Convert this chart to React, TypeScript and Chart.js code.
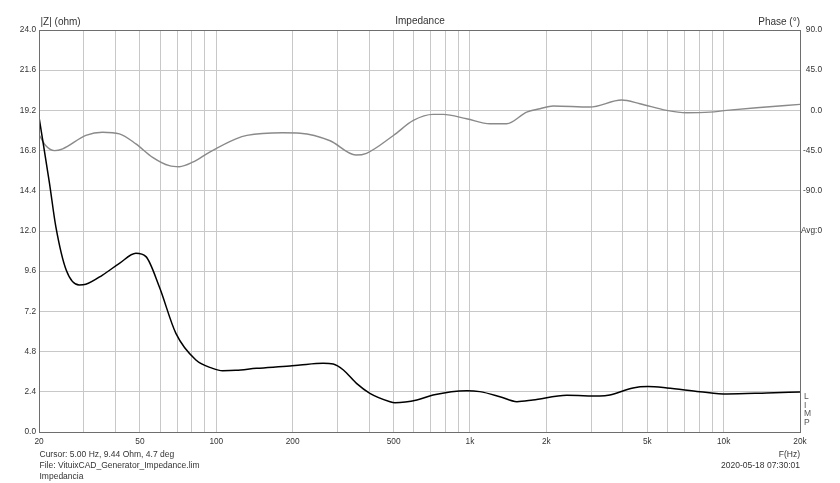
import React, { useEffect, useRef } from 'react';
import { Chart, registerables } from 'chart.js';

Chart.register(...registerables);

const FONT = '"Liberation Sans", Arial, sans-serif';

// Impedance magnitude (ohm) vs frequency (Hz)
const impFreq = [20, 22, 23.3, 25.6, 28.8, 30.6, 35.6, 41.5, 48.2, 52.8, 59.6, 69.3, 83.1, 96.7, 106, 119.5, 144, 195, 214, 264, 289, 317, 357, 403, 484, 506, 618, 715, 973, 1094, 1312, 1531, 1770, 2410, 3250, 3560, 4390, 5030, 5980, 8060, 10300, 14800, 20000];
const impOhm = [18.8, 14.85, 12.26, 9.67, 8.78, 8.82, 9.37, 10.07, 10.67, 10.47, 8.67, 5.89, 4.3, 3.8, 3.66, 3.68, 3.8, 3.94, 4.0, 4.1, 4.06, 3.7, 2.9, 2.31, 1.81, 1.75, 1.91, 2.21, 2.47, 2.41, 2.11, 1.81, 1.91, 2.19, 2.15, 2.21, 2.63, 2.71, 2.63, 2.41, 2.27, 2.33, 2.39];

// Phase (degrees) vs frequency (Hz)
const phFreq = [20, 21.2, 23, 24.8, 30.6, 35.6, 41.5, 48.2, 56.1, 65.3, 71.5, 80.7, 93.8, 119.5, 132, 183, 214, 281, 355, 391, 499, 598, 716, 784, 970, 1199, 1395, 1673, 1888, 2128, 2970, 3960, 4676, 5960, 7140, 8830, 10270, 13490, 20000];
const phDeg = [-27, -39, -45, -43, -28, -24.4, -26.2, -37.5, -52.5, -61.9, -63, -58, -46.9, -31.9, -28, -25.1, -25.5, -34, -50, -48, -28.1, -11.25, -4.5, -4.5, -9.4, -15, -15, -1.9, 1.9, 4.9, 3.75, 11.6, 7.5, 0, -2.6, -1.9, 0, 3, 6.75];

// Axis ticks
const xGrid = [20, 30, 40, 50, 60, 70, 80, 90, 100, 200, 300, 400, 500, 600, 700, 800, 900, 1000, 2000, 3000, 4000, 5000, 6000, 7000, 8000, 9000, 10000, 20000];
const xLabelled = [20, 50, 100, 200, 500, 1000, 2000, 5000, 10000, 20000];
const yTicks = [0, 2.4, 4.8, 7.2, 9.6, 12.0, 14.4, 16.8, 19.2, 21.6, 24.0];
const phaseTicks = [-360, -315, -270, -225, -180, -135, -90, -45, 0, 45, 90];
const phaseLabelled = [90, 45, 0, -45, -90];
const phaseAvgTick = -135;

// Texts
const titleLeft = '|Z| (ohm)';
const titleCenter = 'Impedance';
const titleRight = 'Phase (°)';
const xAxisName = 'F(Hz)';
const footerLines = ['Cursor: 5.00 Hz, 9.44 Ohm, 4.7 deg', 'File: VituixCAD_Generator_Impedance.lim', 'Impedancia'];
const dateText = '2020-05-18 07:30:01';
const sideLetters = ['L', 'I', 'M', 'P'];

const fmtHz = (v: number) => (v >= 1000 ? `${v / 1000}k` : `${v}`);

const overlay = {
  id: 'overlay',
  afterDraw(chart: any) {
    const { ctx, chartArea: a } = chart;
    ctx.save();
    ctx.strokeStyle = '#6e6e6e';
    ctx.lineWidth = 1;
    ctx.strokeRect(Math.round(a.left) + 0.5, Math.round(a.top) + 0.5, Math.round(a.right - a.left), Math.round(a.bottom - a.top));

    ctx.fillStyle = '#333';
    ctx.textBaseline = 'middle';
    ctx.font = `10px ${FONT}`;
    ctx.textAlign = 'left';
    ctx.fillText(titleLeft, 40.5, 22);
    ctx.textAlign = 'center';
    ctx.fillText(titleCenter, 420, 21);
    ctx.textAlign = 'right';
    ctx.fillText(titleRight, 800, 22.5);

    ctx.font = `8.5px ${FONT}`;
    ctx.textAlign = 'left';
    const ys = [454.3, 465.7, 476.5];
    footerLines.forEach((t, i) => ctx.fillText(t, 39.5, ys[i]));
    ctx.textAlign = 'right';
    ctx.fillText(xAxisName, 800, 454.3);
    ctx.fillText(dateText, 800, 465.7);

    ctx.fillStyle = '#555';
    ctx.textAlign = 'left';
    sideLetters.forEach((t, i) => ctx.fillText(t, 804, 396.5 + i * 8.7));
    ctx.restore();
  },
};

export default function App() {
  const ref = useRef<HTMLCanvasElement | null>(null);

  useEffect(() => {
    if (!ref.current) return;
    const tickFont = { family: FONT, size: 8.3 };
    const chart = new Chart(ref.current, {
      type: 'line',
      data: {
        datasets: [
          {
            label: 'Impedance',
            data: impFreq.map((f, i) => ({ x: f, y: impOhm[i] })),
            yAxisID: 'y',
            borderColor: '#000000',
            borderWidth: 1.5,
            pointRadius: 0,
            cubicInterpolationMode: 'monotone',
          },
          {
            label: 'Phase',
            data: phFreq.map((f, i) => ({ x: f, y: phDeg[i] })),
            yAxisID: 'y2',
            borderColor: '#8a8a8a',
            borderWidth: 1.4,
            pointRadius: 0,
            cubicInterpolationMode: 'monotone',
          },
        ],
      },
      options: {
        animation: false,
        responsive: false,
        layout: { padding: { top: 30, left: 0, right: 18, bottom: 0 } },
        plugins: { legend: { display: false }, tooltip: { enabled: false } },
        scales: {
          x: {
            type: 'logarithmic',
            position: 'bottom',
            min: 20,
            max: 20000,
            afterBuildTicks: (s: any) => {
              s.ticks = xGrid.map((v) => ({ value: v }));
            },
            afterFit: (s: any) => {
              s.height = 51;
            },
            grid: { color: '#c8c8c8', lineWidth: 1, drawTicks: false },
            border: { display: false },
            ticks: {
              autoSkip: false,
              maxRotation: 0,
              minRotation: 0,
              padding: 5,
              color: '#333',
              font: tickFont,
              callback: (v: any) => (xLabelled.includes(Number(v)) ? fmtHz(Number(v)) : ''),
            },
          },
          y: {
            type: 'linear',
            position: 'left',
            min: 0,
            max: 24,
            afterBuildTicks: (s: any) => {
              s.ticks = yTicks.map((v) => ({ value: v }));
            },
            afterFit: (s: any) => {
              s.width = 39;
            },
            grid: { color: '#c8c8c8', lineWidth: 1, drawTicks: false },
            border: { display: false },
            ticks: {
              padding: 3,
              color: '#333',
              font: tickFont,
              callback: (v: any) => Number(v).toFixed(1),
            },
          },
          y2: {
            type: 'linear',
            position: 'right',
            min: -360,
            max: 90,
            afterBuildTicks: (s: any) => {
              s.ticks = phaseTicks.map((v) => ({ value: v }));
            },
            afterFit: (s: any) => {
              s.width = 22;
            },
            grid: { display: false, drawTicks: false },
            border: { display: false },
            ticks: {
              padding: 0,
              crossAlign: 'far',
              color: '#333',
              font: tickFont,
              callback: (v: any) => {
                const n = Number(v);
                if (phaseLabelled.includes(n)) return n.toFixed(1);
                if (n === phaseAvgTick) return 'Avg:0';
                return '';
              },
            },
          },
        },
      },
      plugins: [overlay],
    } as any);
    return () => chart.destroy();
  }, []);

  return (
    <div style={{ position: 'absolute', left: 0, top: 0, width: 840, height: 483, background: '#fff' }}>
      <canvas ref={ref} width={840} height={483} style={{ display: 'block' }} />
    </div>
  );
}
